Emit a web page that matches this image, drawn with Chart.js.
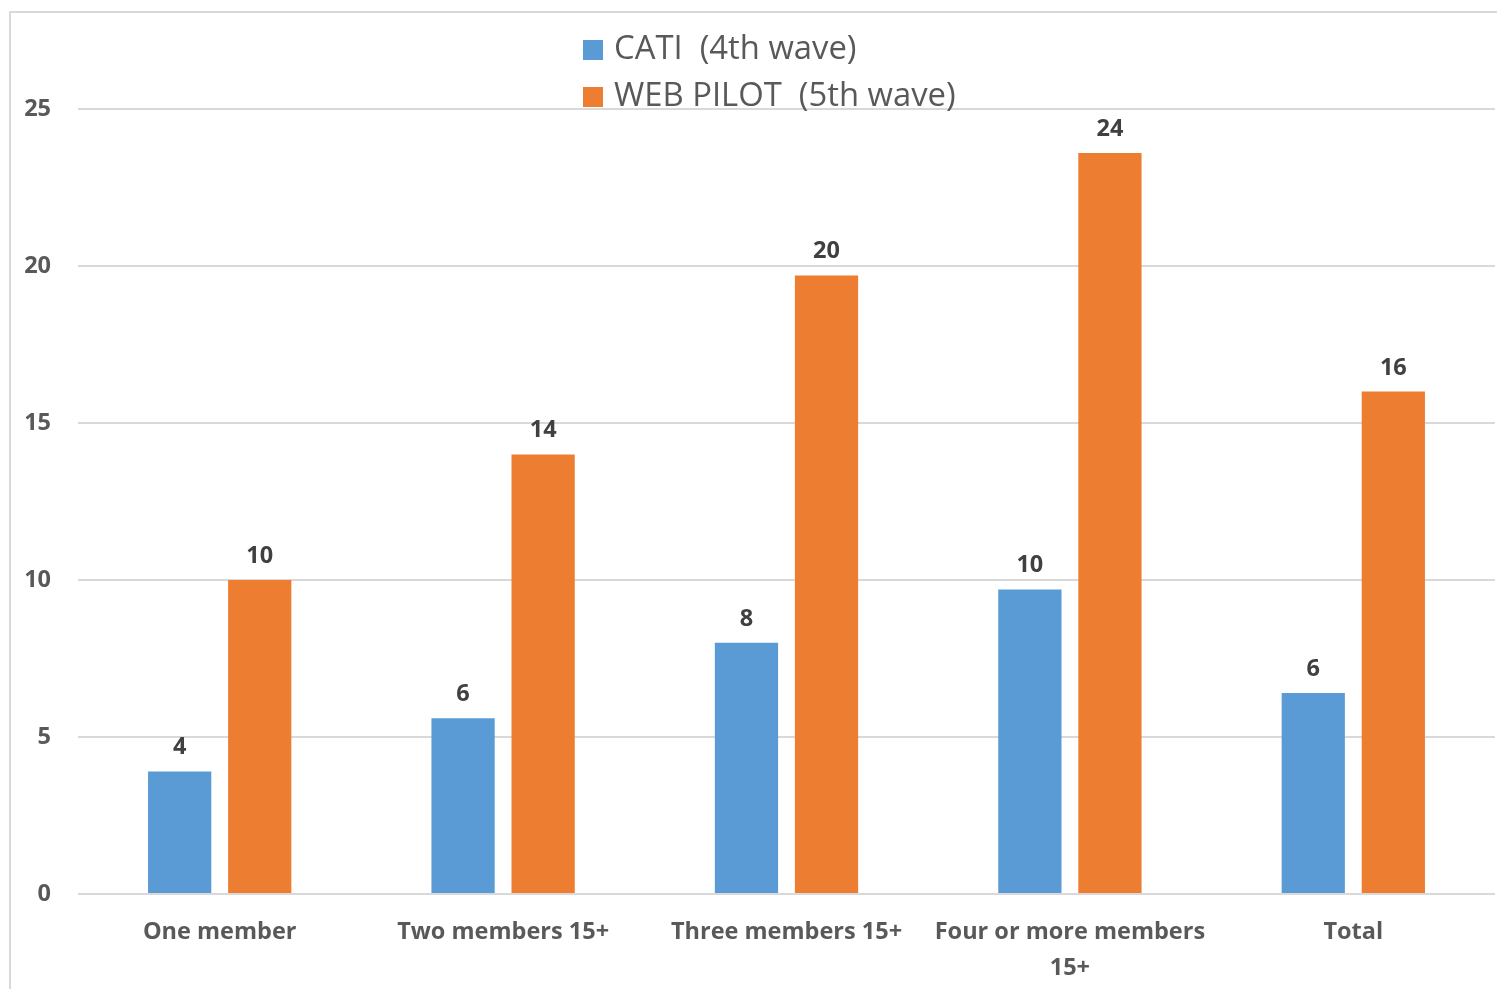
<!DOCTYPE html>
<html>
<head>
<meta charset="utf-8">
<script src="https://cdn.jsdelivr.net/npm/chart.js@4/dist/chart.umd.min.js"></script>
<style>
  html, body { margin: 0; padding: 0; background: #fff; }
  body { width: 1497px; height: 989px; position: relative; overflow: hidden; }
  .frame { position: absolute; left: 9px; top: 11px; width: 1500px; height: 990px;
           border-left: 2px solid #d9d9d9; border-top: 2px solid #d9d9d9; }
  .wrap { position: absolute; left: 0; top: 0; width: 1497px; height: 989px; }
  .legend { position: absolute; left: 583px; top: 26px; font-family: "Open Sans", sans-serif;
            font-size: 32.8px; color: #595959; }
  .legend div { height: 47px; line-height: 42px; white-space: pre; }
  .legend span { display: inline-block; width: 20px; height: 20px; margin-right: 11px;
                 vertical-align: -1px; }
</style>
</head>
<body>
<div class="frame"></div>
<div class="wrap"><canvas class="chart" width="1497" height="989"></canvas></div>
<div class="legend" id="legend"></div>
<script>
// categories and series
const categories = ['One member', 'Two members 15+', 'Three members 15+', ['Four or more members', '15+'], 'Total']
const catiValues = [3.9, 5.6, 8.0, 9.7, 6.4]
const webValues = [10.0, 14.0, 19.7, 23.6, 16.0]
const seriesNames = ['CATI  (4th wave)', 'WEB PILOT  (5th wave)']
const seriesColors = ['#5B9BD5', '#ED7D31']
const yTicks = [0, 5, 10, 15, 20, 25]

const labelFont = { family: '"Open Sans", sans-serif', size: 23.5, weight: 'bold', lineHeight: 1.5 }

// value labels above each bar
const barLabels = {
  id: 'barLabels',
  afterDatasetsDraw(chart) {
    const ctx = chart.ctx
    ctx.save()
    ctx.font = 'bold 23.5px "Open Sans", sans-serif'
    ctx.fillStyle = '#404040'
    ctx.textAlign = 'center'
    ctx.textBaseline = 'bottom'
    chart.data.datasets.forEach((ds, i) => {
      chart.getDatasetMeta(i).data.forEach((bar, j) => {
        ctx.fillText(Math.round(ds.data[j]), bar.x, bar.y - 12)
      })
    })
    ctx.restore()
  }
}

const chart = new Chart(document.querySelector('.chart'), {
  type: 'bar',
  data: {
    labels: categories,
    datasets: [
      { label: seriesNames[0], data: catiValues, backgroundColor: seriesColors[0] },
      { label: seriesNames[1], data: webValues, backgroundColor: seriesColors[1] }
    ]
  },
  options: {
    responsive: false,
    animation: false,
    layout: { padding: { top: 109, right: 2, left: 0, bottom: 0 } },
    datasets: { bar: { categoryPercentage: 0.565, barPercentage: 0.79 } },
    plugins: { legend: { display: false }, tooltip: { enabled: false } },
    scales: {
      x: {
        grid: { display: false },
        border: { display: false },
        ticks: { color: '#595959', font: labelFont, padding: 13, maxRotation: 0, autoSkip: false },
        afterFit(scale) { scale.height = 95 }
      },
      y: {
        min: 0,
        max: 25,
        afterBuildTicks(scale) { scale.ticks = yTicks.map(v => ({ value: v })) },
        grid: { color: '#d9d9d9', lineWidth: 2, drawTicks: false },
        border: { display: false },
        ticks: { color: '#595959', font: labelFont, padding: 27 },
        afterFit(scale) { scale.width = 78 }
      }
    }
  },
  plugins: [barLabels]
})

// legend built from the datasets
const legend = document.getElementById('legend')
chart.data.datasets.forEach(ds => {
  const row = document.createElement('div')
  const box = document.createElement('span')
  box.style.background = ds.backgroundColor
  row.appendChild(box)
  row.appendChild(document.createTextNode(ds.label))
  legend.appendChild(row)
})
</script>
</body>
</html>
